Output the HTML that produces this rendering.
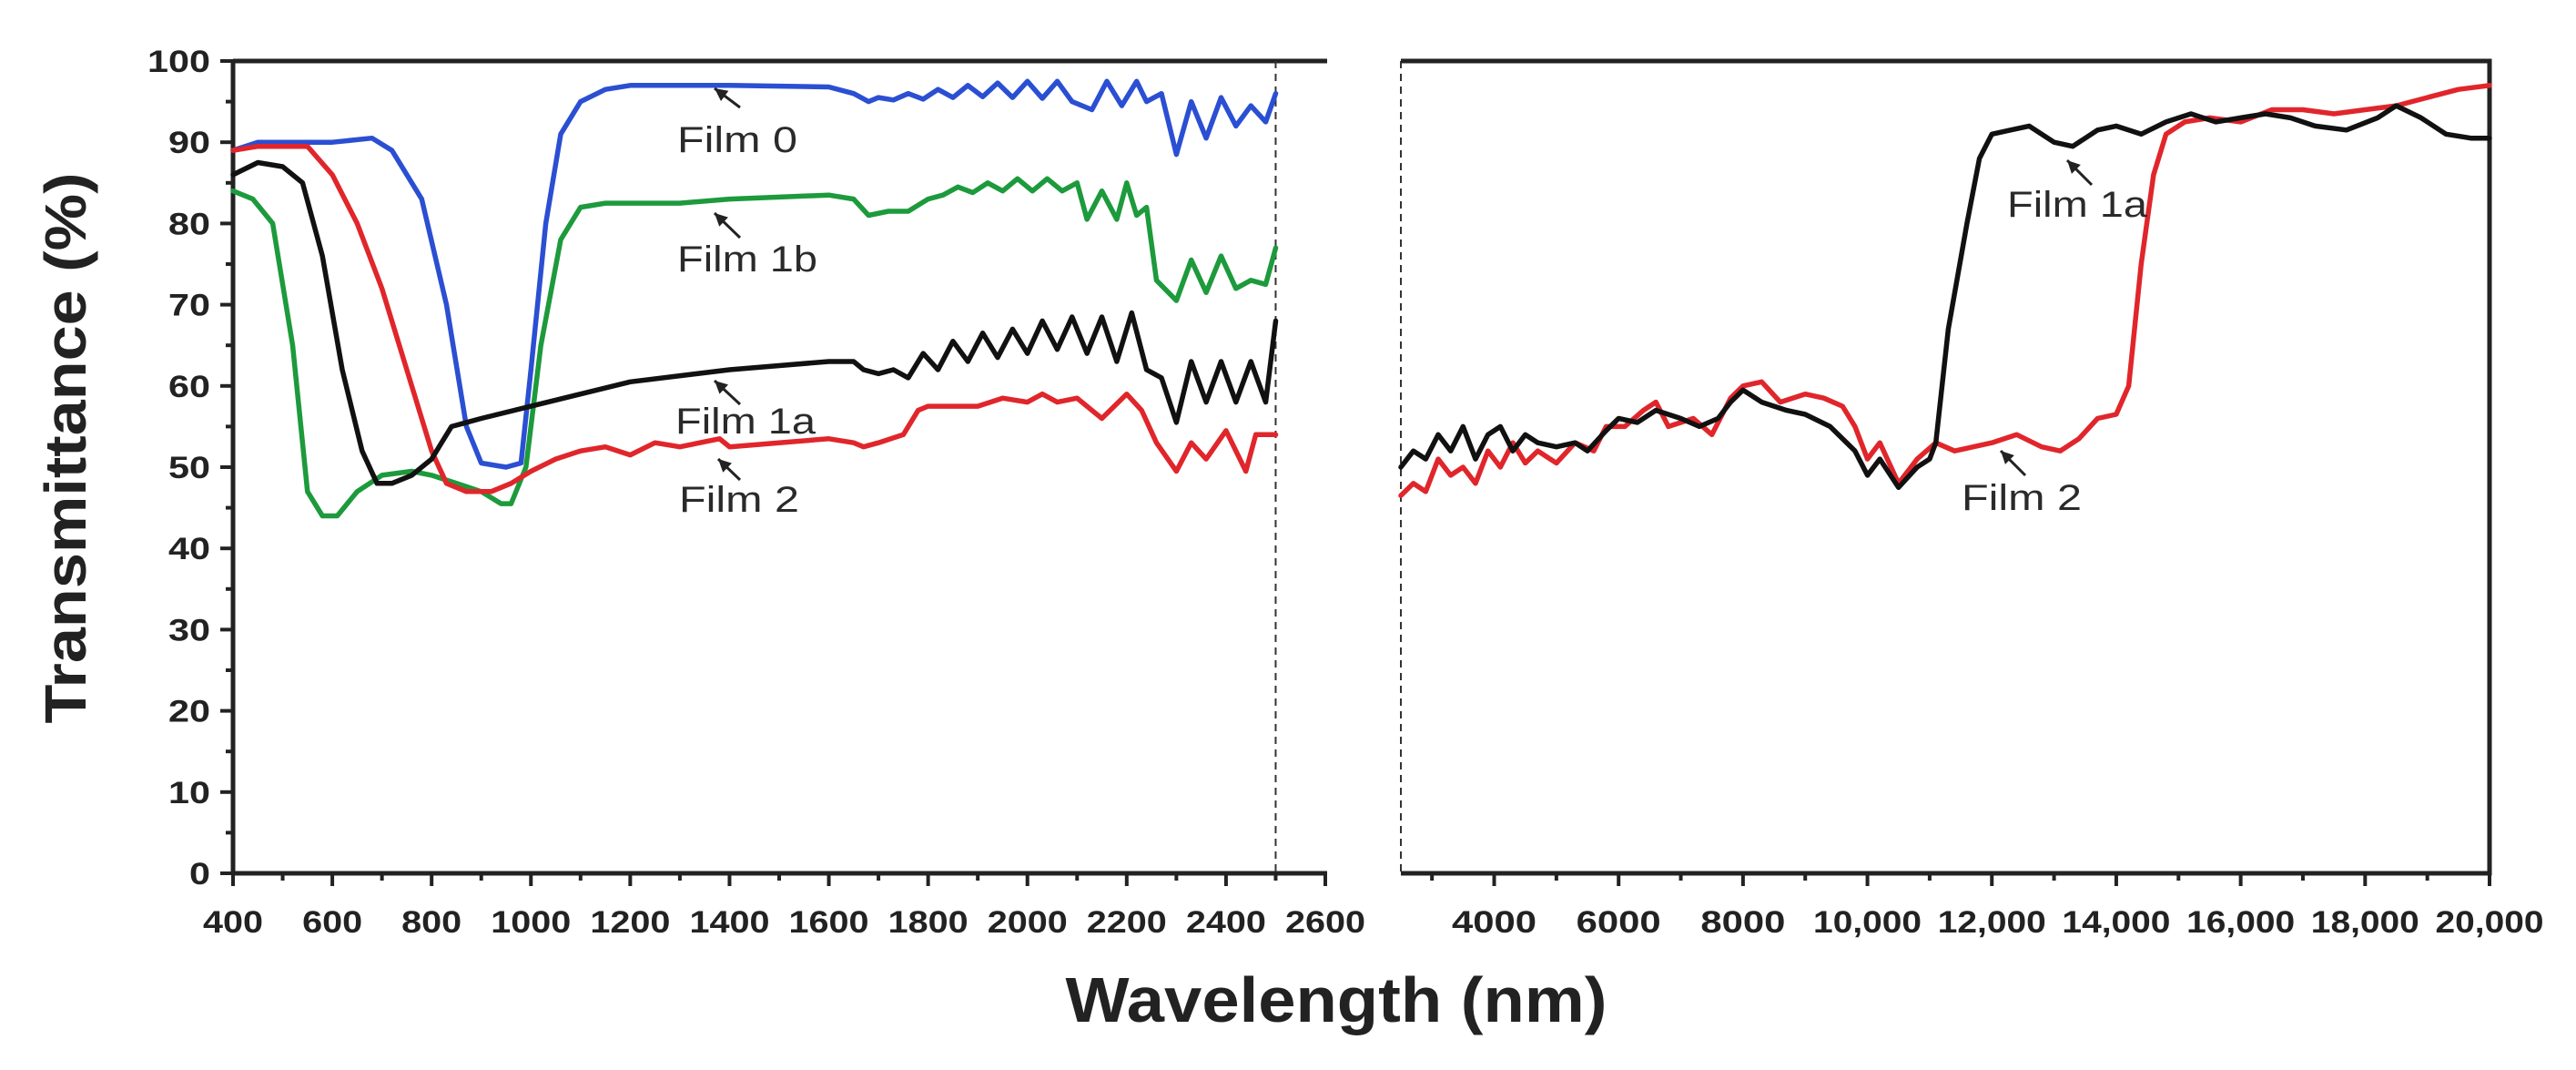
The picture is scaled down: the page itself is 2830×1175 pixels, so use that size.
<!DOCTYPE html>
<html><head><meta charset="utf-8"><style>
html,body{margin:0;padding:0;background:#fff;}
svg{display:block;font-family:"Liberation Sans",Arial,sans-serif;}
</style></head><body>
<svg id="chart" width="2830" height="1175" viewBox="0 0 2830 1175" xmlns="http://www.w3.org/2000/svg">
<g id="axes"></g>
<g id="series"></g>
<g id="annot"></g>
</svg>
<script>
// ---- data ----
const leftTicksX = [400,600,800,1000,1200,1400,1600,1800,2000,2200,2400,2600];
const rightTicksX = [4000,6000,8000,10000,12000,14000,16000,18000,20000];
const rightTickLabels = ["4000","6000","8000","10,000","12,000","14,000","16,000","18,000","20,000"];
const yTicks = [0,10,20,30,40,50,60,70,80,90,100];

const film0X = [400,450,500,600,680,720,780,830,870,900,950,980,1000,1030,1060,1100,1150,1200,1400,1600,1650,1680,1700,1730,1760,1790,1820,1850,1880,1910,1940,1970,2000,2030,2060,2090,2130,2160,2190,2220,2240,2270,2300,2330,2360,2390,2420,2450,2480,2500];
const film0Y = [89,90,90,90,90.5,89,83,70,55,50.5,50,50.5,62,80,91,95,96.5,97,97,96.8,96,95,95.5,95.2,96,95.3,96.5,95.5,97,95.6,97.3,95.5,97.5,95.4,97.5,95,94,97.5,94.5,97.5,95,96,88.5,95,90.5,95.5,92,94.5,92.5,96];

const film1bX = [400,440,480,520,550,580,610,650,700,760,800,850,900,940,960,990,1020,1060,1100,1150,1300,1400,1600,1650,1680,1720,1760,1800,1830,1860,1890,1920,1950,1980,2010,2040,2070,2100,2120,2150,2180,2200,2220,2240,2260,2300,2330,2360,2390,2420,2450,2480,2500];
const film1bY = [84,83,80,65,47,44,44,47,49,49.5,49,48,47,45.5,45.5,50,65,78,82,82.5,82.5,83,83.5,83,81,81.5,81.5,83,83.5,84.5,83.8,85,84,85.5,84,85.5,84,85,80.5,84,80.5,85,81,82,73,70.5,75.5,71.5,76,72,73,72.5,77];

const film1aX = [400,450,500,540,580,620,660,690,720,760,800,820,840,900,1000,1100,1200,1400,1600,1650,1670,1700,1730,1760,1790,1820,1850,1880,1910,1940,1970,2000,2030,2060,2090,2120,2150,2180,2210,2240,2270,2300,2330,2360,2390,2420,2450,2480,2500];
const film1aY = [86,87.5,87,85,76,62,52,48,48,49,51,53,55,56,57.5,59,60.5,62,63,63,62,61.5,62,61,64,62,65.5,63,66.5,63.5,67,64,68,64.5,68.5,64,68.5,63,69,62,61,55.5,63,58,63,58,63,58,68];

const film2X = [400,450,550,600,650,700,750,800,830,870,920,960,1000,1050,1100,1150,1200,1250,1300,1380,1400,1500,1600,1650,1670,1700,1750,1780,1800,1900,1950,2000,2030,2060,2100,2150,2200,2230,2260,2300,2330,2360,2400,2440,2460,2500];
const film2Y = [89,89.5,89.5,86,80,72,62,52,48,47,47,48,49.5,51,52,52.5,51.5,53,52.5,53.5,52.5,53,53.5,53,52.5,53,54,57,57.5,57.5,58.5,58,59,58,58.5,56,59,57,53,49.5,53,51,54.5,49.5,54,54];

const r1aX = [2500,2700,2900,3100,3300,3500,3700,3900,4100,4300,4500,4700,5000,5300,5500,5800,6000,6300,6600,7000,7300,7600,7800,8000,8300,8700,9000,9400,9800,10000,10200,10500,10800,11000,11100,11300,11600,11800,12000,12300,12600,13000,13300,13700,14000,14400,14800,15200,15600,16000,16400,16800,17200,17700,18200,18500,18900,19300,19700,20000];
const r1aY = [50,52,51,54,52,55,51,54,55,52,54,53,52.5,53,52,54.5,56,55.5,57,56,55,56,58,59.5,58,57,56.5,55,52,49,51,47.5,50,51,53,67,80,88,91,91.5,92,90,89.5,91.5,92,91,92.5,93.5,92.5,93,93.5,93,92,91.5,93,94.5,93,91,90.5,90.5];

const r2X = [2500,2700,2900,3100,3300,3500,3700,3900,4100,4300,4500,4700,5000,5300,5600,5800,6100,6400,6600,6800,7200,7500,7800,8000,8300,8600,9000,9300,9600,9800,10000,10200,10500,10800,11100,11400,11700,12000,12400,12800,13100,13400,13700,14000,14200,14400,14600,14800,15100,15500,16000,16500,17000,17500,18000,18500,19000,19500,20000];
const r2Y = [46.5,48,47,51,49,50,48,52,50,53,50.5,52,50.5,53,52,55,55,57,58,55,56,54,58.5,60,60.5,58,59,58.5,57.5,55,51,53,48,51,53,52,52.5,53,54,52.5,52,53.5,56,56.5,60,75,86,91,92.5,93,92.5,94,94,93.5,94,94.5,95.5,96.5,97];

// ---- geometry ----
const NS = "http://www.w3.org/2000/svg";
const TOP = 67, BOT = 959;
const yS = v => BOT - (v/100)*(BOT-TOP);
const xL = v => 256 + (v-400)*(1200/2200);
const xR = v => 1539 + (v-2500)*(1196/17500);
const axes = document.getElementById('axes');
const ser = document.getElementById('series');
const ann = document.getElementById('annot');
function mk(tag, attrs, parent){ const e=document.createElementNS(NS,tag); for(const k in attrs) e.setAttribute(k,attrs[k]); parent.appendChild(e); return e; }

let e;
e = mk('line',{x1:256,y1:TOP,x2:1458,y2:TOP,stroke:'#222','stroke-width':5},axes);
 
e = mk('line',{x1:256,y1:TOP-2,x2:256,y2:BOT+2,stroke:'#222','stroke-width':5},axes);
 
e = mk('line',{x1:254,y1:BOT,x2:1458,y2:BOT,stroke:'#222','stroke-width':5},axes);
 
e = mk('line',{x1:xL(2500),y1:TOP,x2:xL(2500),y2:BOT,stroke:'#333','stroke-width':2,'stroke-dasharray':'8,6'},axes);
 
e = mk('line',{x1:1539,y1:TOP,x2:1539,y2:BOT,stroke:'#333','stroke-width':2,'stroke-dasharray':'8,6'},axes);
 
e = mk('polyline',{points:`1539,${TOP} 2735,${TOP} 2735,${BOT} 1539,${BOT}`,fill:'none',stroke:'#222','stroke-width':5},axes);
 

for(let v=0; v<=100; v+=5){
  const major = v%10===0;
  e = mk('line',{x1:256,x2:256-(major?14:8),y1:yS(v),y2:yS(v),stroke:'#222','stroke-width':4},axes);
   
}
yTicks.forEach(v=>{
  const s=String(v);
  e = mk('text',{x:231,y:yS(v)+12,'text-anchor':'end','font-size':34,'font-weight':'bold',fill:'#222',textLength:s.length*23,lengthAdjust:'spacingAndGlyphs'},axes);
  e.textContent=s;
   
});
for(let v=400; v<=2600; v+=100){
  const major=v%200===0;
  e = mk('line',{x1:xL(v),x2:xL(v),y1:BOT,y2:BOT+(major?14:8),stroke:'#222','stroke-width':4},axes);
   
}
leftTicksX.forEach(v=>{
  const s=String(v);
  e = mk('text',{x:xL(v),y:1024,'text-anchor':'middle','font-size':34,'font-weight':'bold',fill:'#222',textLength:s.length*22,lengthAdjust:'spacingAndGlyphs'},axes);
  e.textContent=s;
   
});
for(let v=3000; v<=20000; v+=1000){
  const major=v%2000===0;
  e = mk('line',{x1:xR(v),x2:xR(v),y1:BOT,y2:BOT+(major?14:8),stroke:'#222','stroke-width':4},axes);
   
}
rightTicksX.forEach((v,i)=>{
  const s=rightTickLabels[i];
  e = mk('text',{x:xR(v),y:1024,'text-anchor':'middle','font-size':34,'font-weight':'bold',fill:'#222',textLength:s.length>4?119:93,lengthAdjust:'spacingAndGlyphs'},axes);
  e.textContent=s;
   
});
e = mk('text',{x:0,y:0,transform:'translate(94,492) rotate(-90)','text-anchor':'middle','font-size':64,'font-weight':'bold',fill:'#222',textLength:605,lengthAdjust:'spacingAndGlyphs'},axes);
e.textContent='Transmittance (%)';
 
e = mk('text',{x:1468,y:1122,'text-anchor':'middle','font-size':70,'font-weight':'bold',fill:'#222',textLength:595,lengthAdjust:'spacingAndGlyphs'},axes);
e.textContent='Wavelength (nm)';
 

function line(xs,ys,xf,color,name){
  const pts = xs.map((x,i)=>xf(x).toFixed(1)+','+yS(ys[i]).toFixed(1)).join(' ');
  const p = mk('polyline',{points:pts,fill:'none',stroke:color,'stroke-width':5.5,'stroke-linejoin':'round','stroke-linecap':'round'},ser);
  
  
}
line(film0X,film0Y,xL,'#2b4fd3','film-0-line');
line(film1bX,film1bY,xL,'#1d9a3c','film-1b-line');
line(film2X,film2Y,xL,'#e0262b','film-2-line');
line(film1aX,film1aY,xL,'#111111','film-1a-line');
line(r2X,r2Y,xR,'#e0262b','film-2-ir-line');
line(r1aX,r1aY,xR,'#111111','film-1a-ir-line');

function label(txt,x,y,ax1,ay1,ax2,ay2,name){
  const t = mk('text',{x:x,y:y,'font-size':40,fill:'#2a2a2a',textLength:txt.length*22,lengthAdjust:'spacingAndGlyphs'},ann);
  t.textContent=txt;
  
  
  const l = mk('line',{x1:ax1,y1:ay1,x2:ax2,y2:ay2,stroke:'#222','stroke-width':3},ann);
  
  
  const dx=ax2-ax1, dy=ay2-ay1, L=Math.hypot(dx,dy), ux=dx/L, uy=dy/L;
  const hx=ax2-ux*14, hy=ay2-uy*14;
  const h = mk('polygon',{points:`${ax2},${ay2} ${hx-uy*7},${hy+ux*7} ${hx+uy*7},${hy-ux*7}`,fill:'#222'},ann);
  
  
}
label('Film 0',744,167,813,118,785,97,'film-0');
label('Film 1b',744,298,813,261,785,234,'film-1b');
label('Film 1a',742,476,813,444,785,418,'film-1a');
label('Film 2',746,562,813,527,789,504,'film-2');
label('Film 1a',2205,238,2298,203,2271,176,'film-1a-ir');
label('Film 2',2155,560,2225,522,2198,495,'film-2-ir');
</script>
</body></html>
